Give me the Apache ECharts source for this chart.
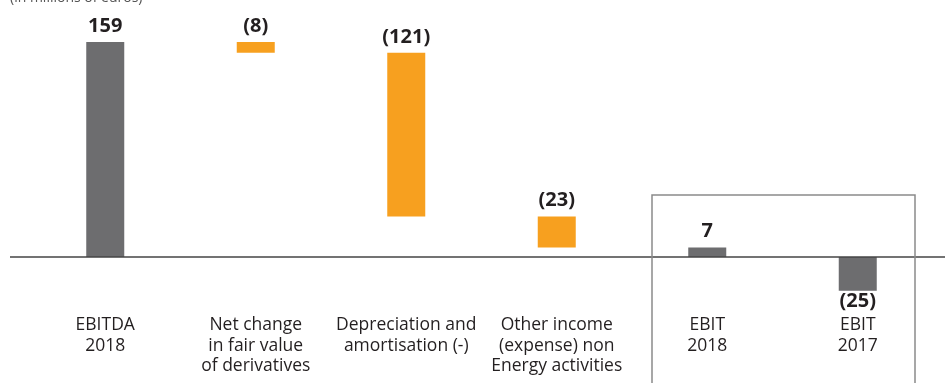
<!DOCTYPE html>
<html><head><meta charset="utf-8">
<script src="https://cdn.jsdelivr.net/npm/echarts@6/dist/echarts.min.js"></script>
<style>html,body{margin:0;padding:0;background:#fff}#c{width:945px;height:383px}</style>
</head><body><div id="c"></div>
<script>
const categories = ['EBITDA\n2018', 'Net change\nin fair value\nof derivatives', 'Depreciation and\namortisation (-)', 'Other income\n(expense) non\nEnergy activities', 'EBIT\n2018', 'EBIT\n2017'];
const values = [159, -8, -121, -23, 7, -25];
const kinds = ['total', 'delta', 'delta', 'delta', 'total', 'total'];
const valueLabels = ['159', '(8)', '(121)', '(23)', '7', '(25)'];
const unitNote = '(in millions of euros)';

const GRAY = '#6d6d6f', ORANGE = '#f7a01f';
let running = 0;
const baseData = [], barData = [];
values.forEach((v, i) => {
  let base, h;
  if (kinds[i] === 'total') { base = 0; h = v; running = v; }
  else { const next = running + v; base = Math.min(running, next); h = Math.abs(v); running = next; }
  baseData.push(base);
  const below = v < 0 && kinds[i] === 'total';
  barData.push({
    value: h,
    itemStyle: { color: kinds[i] === 'total' ? GRAY : ORANGE },
    label: { position: below ? 'bottom' : 'top', distance: below ? 0 : 6, formatter: valueLabels[i] }
  });
});

const chart = echarts.init(document.getElementById('c'));
const font = '"Open Sans", "Noto Sans", sans-serif';
chart.setOption({
  animation: false,
  grid: { left: 30, right: 12, top: 13.6, bottom: 71.9, containLabel: false, outerBoundsMode: 'none' },
  xAxis: {
    type: 'category', data: categories,
    axisLine: { show: false, onZero: false }, axisTick: { show: false },
    axisLabel: { interval: 0, margin: 4, color: '#231f20', fontSize: 17.5, lineHeight: 20.5, fontFamily: font, verticalAlign: 'top' }
  },
  yAxis: { type: 'value', min: -40, max: 180, show: false, splitLine: { show: false } },
  series: [
    { type: 'bar', stack: 'w', data: baseData, itemStyle: { color: 'transparent' }, barWidth: 38, silent: true },
    { type: 'bar', stack: 'w', data: barData, barWidth: 38,
      label: { show: true, color: '#231f20', fontSize: 20, fontWeight: 'bold', fontFamily: font } }
  ]
});
const y0 = chart.convertToPixel({ yAxisIndex: 0 }, 0);
chart.setOption({
  graphic: [
    { type: 'line', shape: { x1: 10, y1: y0, x2: 945, y2: y0 }, style: { stroke: '#444', lineWidth: 1.3 }, z: 10 },
    { type: 'rect', shape: { x: 652, y: 195, width: 263, height: 200 }, style: { fill: 'none', stroke: '#8a8a8a', lineWidth: 1.5 }, z: 10 },
    { type: 'text', left: 10, top: -9, style: { text: unitNote, fill: '#555', fontSize: 14, fontFamily: font } }
  ]
});
</script></body></html>
